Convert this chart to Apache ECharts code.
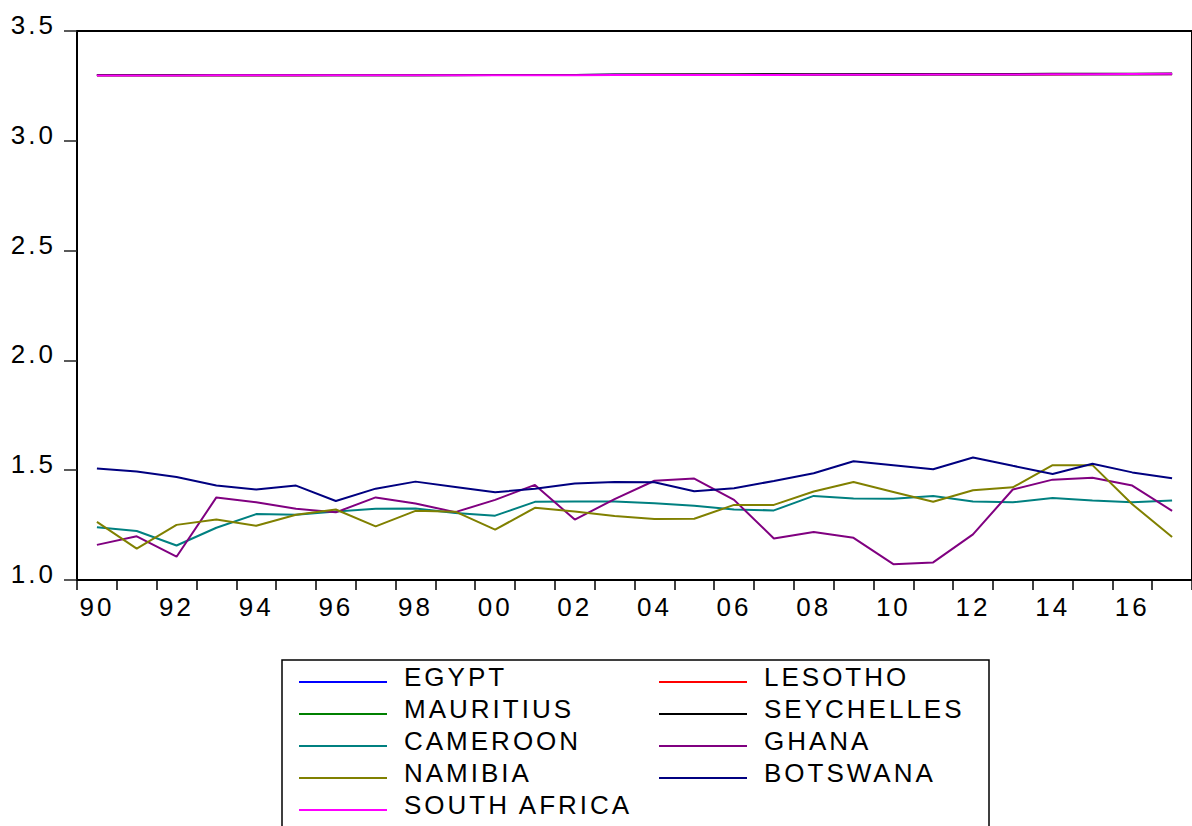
<!DOCTYPE html>
<html>
<head>
<meta charset="utf-8">
<title>Series 1990-2017</title>
<script src="https://cdn.jsdelivr.net/npm/echarts@6/dist/echarts.min.js"></script>
<style>
  html, body { margin: 0; padding: 0; background: #ffffff; }
  #chart { width: 1192px; height: 826px; }
  /* slightly spaced lettering for all chart text */
  #chart text { letter-spacing: 3px; }
</style>
</head>
<body>
<div id="chart"></div>
<script>
// Years on the horizontal axis
const years = ['1990','1991','1992','1993','1994','1995','1996','1997','1998','1999',
               '2000','2001','2002','2003','2004','2005','2006','2007','2008','2009',
               '2010','2011','2012','2013','2014','2015','2016','2017'];

// Country series
const egypt       = [3.300,3.300,3.300,3.300,3.300,3.300,3.300,3.300,3.300,3.300,3.300,3.300,3.300,3.301,3.301,3.301,3.301,3.301,3.301,3.302,3.302,3.302,3.302,3.302,3.303,3.303,3.303,3.303];
const lesotho     = [3.299,3.299,3.299,3.299,3.299,3.299,3.300,3.300,3.300,3.300,3.300,3.300,3.300,3.300,3.301,3.301,3.301,3.301,3.301,3.301,3.302,3.302,3.302,3.302,3.302,3.303,3.303,3.303];
const mauritius   = [3.298,3.298,3.298,3.299,3.299,3.299,3.299,3.299,3.299,3.300,3.300,3.300,3.300,3.300,3.300,3.301,3.301,3.301,3.301,3.301,3.302,3.302,3.302,3.302,3.303,3.303,3.303,3.304];
const seychelles  = [3.298,3.298,3.298,3.298,3.299,3.299,3.299,3.299,3.299,3.299,3.300,3.300,3.300,3.302,3.302,3.302,3.302,3.303,3.303,3.303,3.303,3.304,3.304,3.304,3.305,3.305,3.305,3.306];
const cameroon    = [1.240,1.223,1.157,1.238,1.300,1.297,1.312,1.324,1.326,1.305,1.293,1.356,1.357,1.357,1.350,1.338,1.321,1.317,1.383,1.371,1.370,1.382,1.357,1.354,1.373,1.362,1.354,1.362];
const ghana       = [1.160,1.199,1.106,1.376,1.354,1.324,1.308,1.376,1.348,1.309,1.365,1.433,1.275,1.368,1.452,1.462,1.365,1.189,1.219,1.192,1.072,1.080,1.208,1.412,1.457,1.466,1.430,1.315];
const namibia     = [1.265,1.143,1.251,1.276,1.247,1.297,1.321,1.244,1.315,1.311,1.229,1.329,1.312,1.291,1.278,1.279,1.342,1.342,1.403,1.446,1.401,1.356,1.409,1.422,1.523,1.523,1.345,1.196];
const botswana    = [1.508,1.494,1.469,1.430,1.412,1.430,1.360,1.416,1.448,1.424,1.400,1.415,1.439,1.446,1.445,1.404,1.418,1.451,1.486,1.541,1.523,1.504,1.558,1.520,1.483,1.529,1.490,1.463];
const southAfrica = [3.297,3.297,3.297,3.298,3.298,3.298,3.298,3.298,3.298,3.299,3.299,3.299,3.299,3.300,3.300,3.300,3.300,3.300,3.301,3.301,3.301,3.302,3.302,3.302,3.303,3.303,3.304,3.305];

// Vertical axis range and step
const yMin = 1.0, yMax = 3.5, yStep = 0.5;

// Legend columns
const legendLeft  = ['EGYPT', 'MAURITIUS', 'CAMEROON', 'NAMIBIA', 'SOUTH AFRICA'];
const legendRight = ['LESOTHO', 'SEYCHELLES', 'GHANA', 'BOTSWANA'];

const seriesList = [
  { name: 'EGYPT',        data: egypt,       color: '#0000FF' },
  { name: 'LESOTHO',      data: lesotho,     color: '#FF0000' },
  { name: 'MAURITIUS',    data: mauritius,   color: '#008000' },
  { name: 'SEYCHELLES',   data: seychelles,  color: '#000000' },
  { name: 'CAMEROON',     data: cameroon,    color: '#008080' },
  { name: 'GHANA',        data: ghana,       color: '#800080' },
  { name: 'NAMIBIA',      data: namibia,     color: '#808000' },
  { name: 'BOTSWANA',     data: botswana,    color: '#000080' },
  { name: 'SOUTH AFRICA', data: southAfrica, color: '#FF00FF' }
];

const FONT = 'Liberation Sans, Arial, sans-serif';

// Legend key: a short bar sitting a little below the text's middle
const KEY_ICON = 'path://M0,0 M0,10 L88,10 L88,12 L0,12 Z';

const legendText = {
  color: '#000',
  fontFamily: FONT,
  fontSize: 26,
  lineHeight: 32,
  width: 250,
  padding: [0, 0, 0, 12]
};

const chart = echarts.init(document.getElementById('chart'), null, { renderer: 'svg' });

chart.setOption({
  animation: false,
  backgroundColor: '#ffffff',
  grid: {
    left: 77, top: 31, width: 1120, height: 549,
    show: true, borderColor: '#000', borderWidth: 2,
    containLabel: false
  },
  xAxis: {
    type: 'category',
    data: years,
    boundaryGap: true,
    axisLine: { lineStyle: { color: '#000', width: 2 } },
    axisTick: { show: true, interval: 0, length: 10, lineStyle: { color: '#000', width: 1.5 } },
    axisLabel: {
      interval: 1,
      margin: 14,
      color: '#000',
      fontFamily: FONT,
      fontSize: 26,
      formatter: v => v.slice(2)
    },
    splitLine: { show: false }
  },
  yAxis: {
    type: 'value',
    min: yMin, max: yMax, interval: yStep,
    axisLine: { show: true, lineStyle: { color: '#000', width: 2 } },
    axisTick: { show: true, length: 13, lineStyle: { color: '#222', width: 1.5 } },
    axisLabel: {
      margin: 21,
      color: '#000',
      fontFamily: FONT,
      fontSize: 26,
      verticalAlign: 'bottom',
      lineHeight: 12,
      formatter: v => v.toFixed(1)
    },
    splitLine: { show: false }
  },
  legend: [
    {
      data: legendLeft,
      orient: 'vertical',
      left: 282, top: 660,
      height: 200,
      padding: [1, 335, 30, 17],
      itemGap: 0,
      itemWidth: 88, itemHeight: 12,
      icon: KEY_ICON,
      borderColor: '#000', borderWidth: 1.5,
      selectedMode: false,
      textStyle: legendText
    },
    {
      data: legendRight,
      orient: 'vertical',
      left: 659, top: 661,
      height: 200,
      padding: 0,
      itemGap: 0,
      itemWidth: 88, itemHeight: 12,
      icon: KEY_ICON,
      selectedMode: false,
      textStyle: legendText
    }
  ],
  series: seriesList.map(s => ({
    name: s.name,
    type: 'line',
    data: s.data,
    symbol: 'none',
    color: s.color,
    lineStyle: { color: s.color, width: 2 },
    emphasis: { disabled: true }
  }))
});
</script>
</body>
</html>
